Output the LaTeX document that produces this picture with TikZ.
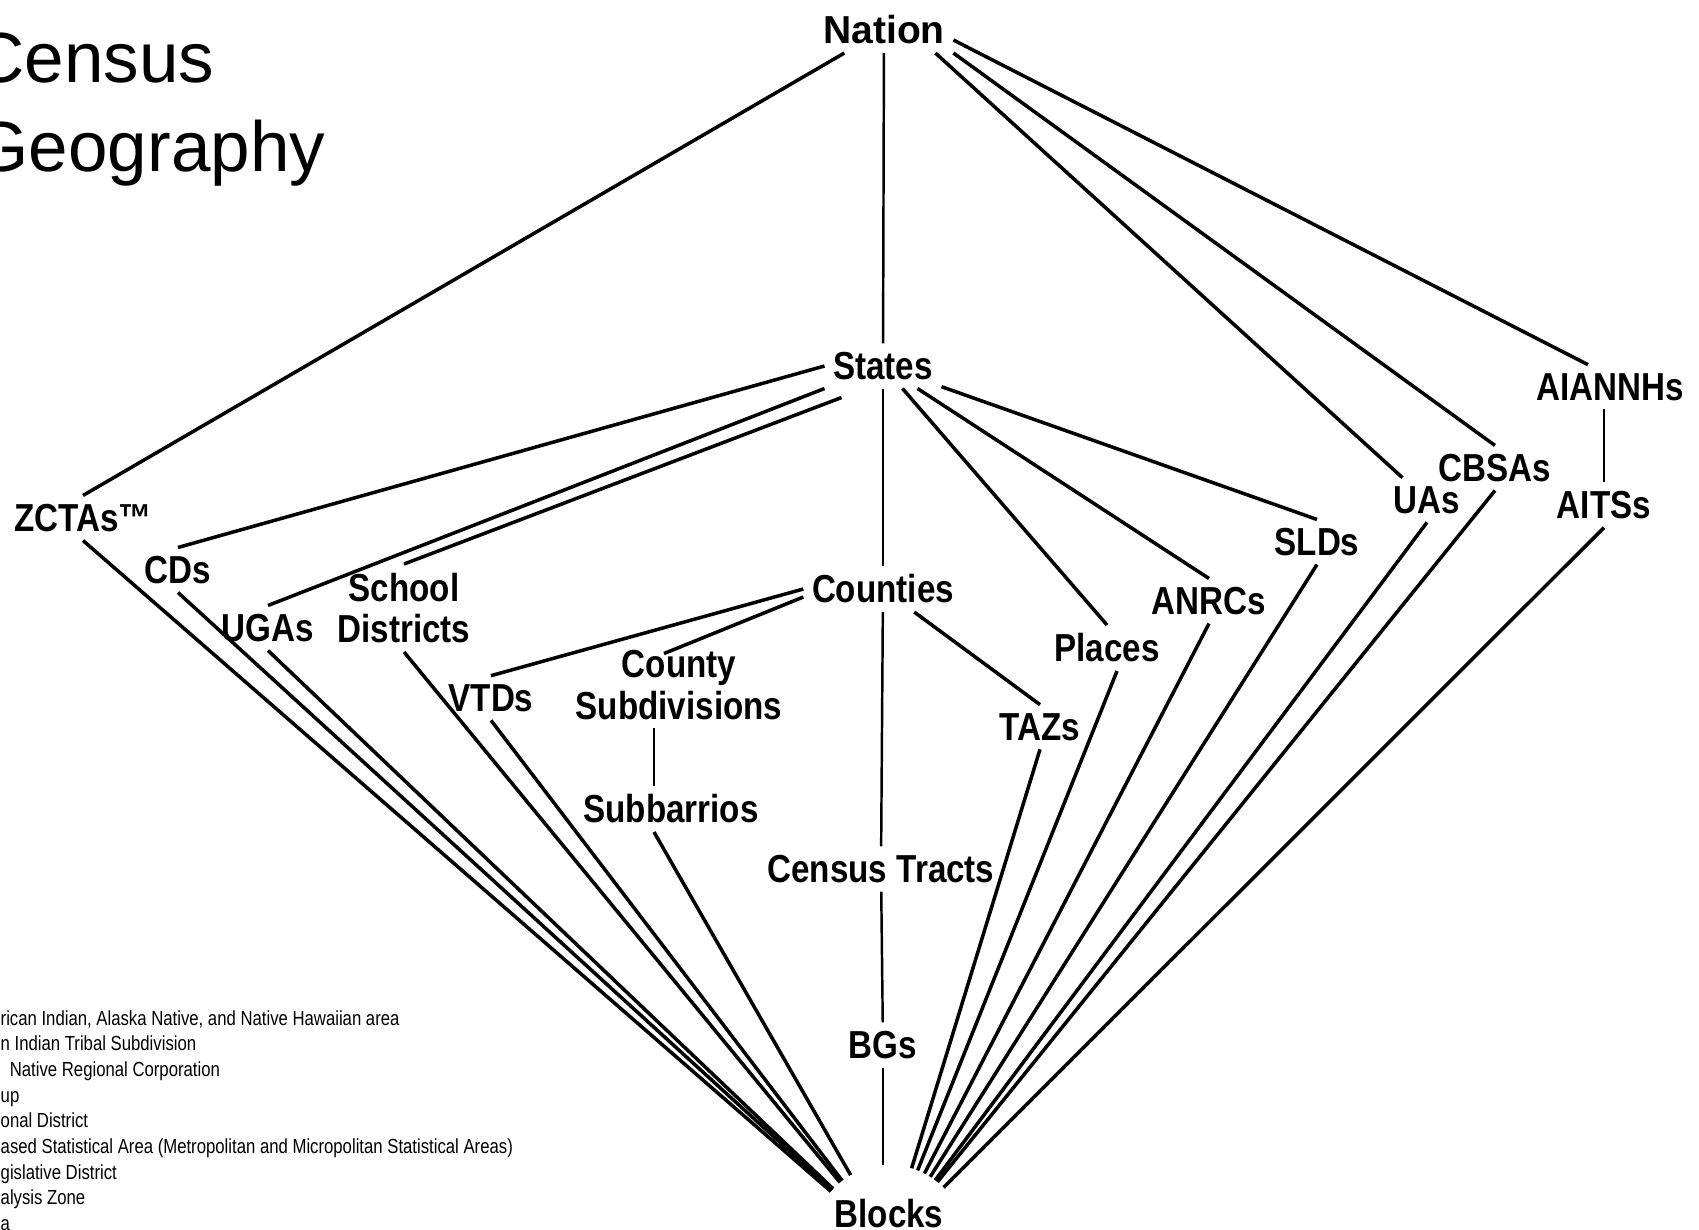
\documentclass[tikz,border=0pt]{standalone}
\usepackage{fontspec}
\setmainfont{Liberation Sans}
\newfontfamily\geofont[FakeStretch=0.85]{Liberation Sans}
\newfontfamily\keyfont[FakeStretch=0.82]{Liberation Sans}
\tikzset{
  geo/.style = {
    font=\geofont\bfseries\fontsize{11.1pt}{11.9pt}\selectfont,
    inner sep=0.08cm, align=center
  },
  title/.style = {font=\fontsize{20.2pt}{24pt}\selectfont, anchor=base west, inner sep=0},
  keytext/.style = {font=\keyfont\fontsize{5.8pt}{7pt}\selectfont, anchor=base west, inner sep=0},
  link/.style = {line width=1pt},
  vlink/.style = {line width=0.7pt}
}

\begin{document}
\begin{tikzpicture}[x=0.01cm, y=-0.01cm]
  \useasboundingbox (0,0) rectangle (1699,1230);
  \node[title] (title1) at (-27,83) {Census};
  \node[title] (title2) at (-27,171) {Geography};

  \node[geo, font=\normalfont\bfseries\fontsize{11.1pt}{11.9pt}\selectfont] (nation) at (884,30) {Nation};
  \node[geo] (states) at (883,366) {States};
  \node[geo] (aiannh) at (1610,387) {AIANNHs};
  \node[geo] (cbsa) at (1495,468) {CBSAs};
  \node[geo] (ua) at (1427,500) {UAs};
  \node[geo] (aits) at (1604,505) {AITSs};
  \node[geo] (zcta) at (83,518) {ZCTAs™};
  \node[geo] (sld) at (1317,542) {SLDs};
  \node[geo] (cd) at (178,570) {CDs};
  \node[geo] (school) at (404,608) {School\\Districts};
  \node[geo] (uga) at (268,628) {UGAs};
  \node[geo] (counties) at (883,589) {Counties};
  \node[geo] (anrc) at (1209,601) {ANRCs};
  \node[geo] (csub) at (679,685) {County\\Subdivisions};
  \node[geo] (vtd) at (491,698) {VTDs};
  \node[geo] (places) at (1107,648) {Places};
  \node[geo] (taz) at (1040,727) {TAZs};
  \node[geo] (subb) at (671,809) {Subbarrios};
  \node[geo] (tracts) at (881,869) {Census Tracts};
  \node[geo] (bg) at (883,1045) {BGs};
  % deep text box so the lines meet below the word
  \node[geo, circle, inner sep=0.05cm, text depth=0.58cm] (blocks) at (889,1242) {Blocks};

  \draw[link] (nation) -- (zcta.north);
  \draw[vlink] (nation) -- (states);
  \draw[link] ([xshift=-0.18cm]nation.south east) -- (ua);
  \draw[link] (nation.south east) -- (cbsa.north);
  \draw[link] ([yshift=-0.1cm]nation.east) -- ([xshift=-0.22cm]aiannh.north);
  \draw[vlink] (aiannh.south -| aits) -- (aits);

  \draw[link] (states.west) -- (cd.north);
  \draw[link] (states.south west) -- (uga.north);
  \draw[link] ([xshift=0.17cm,yshift=-0.09cm]states.south west) -- (school.north);
  \draw[vlink] (states) -- (counties);
  \draw[link] (states) -- (places.north);
  \draw[link] (states) -- (anrc.north);
  \draw[link] (states) -- (sld.north);

  \draw[link] (counties.west) -- (vtd.north);
  \draw[link] ([yshift=-0.08cm]counties.west) -- ([xshift=-0.15cm,yshift=-0.12cm]csub.north);
  \draw[link] (counties) -- (taz.north);
  \draw[vlink] (counties) -- (tracts);
  \draw[vlink] (tracts) -- (bg);
  \draw[vlink] (bg) -- (bg |- blocks.north);
  \draw[vlink] ([xshift=-0.17cm]subb.north |- csub.south) -- ([xshift=-0.17cm]subb.north);

  \foreach \n in {zcta, cd, uga, school, vtd}
    \draw[link] (\n.south) -- (blocks);
  \draw[link] ([xshift=-0.17cm]subb.south) -- (blocks);
  \draw[link] ([xshift=0.1cm]places.south) -- (blocks);
  \foreach \n in {taz, anrc, sld, ua, cbsa, aits}
    \draw[link] (\n.south) -- (blocks);

  \foreach \t [count=\i] in {
    {rican Indian, Alaska Native, and Native Hawaiian area},
    {n Indian Tribal Subdivision},
    {\hspace*{2.6pt}Native Regional Corporation},
    {up},
    {onal District},
    {ased Statistical Area (Metropolitan and Micropolitan Statistical Areas)},
    {gislative District},
    {alysis Zone},
    {a}}
    \node[keytext] (key\i) at (0,{1025+25.7*(\i-1)}) {\t};
\end{tikzpicture}
\end{document}
